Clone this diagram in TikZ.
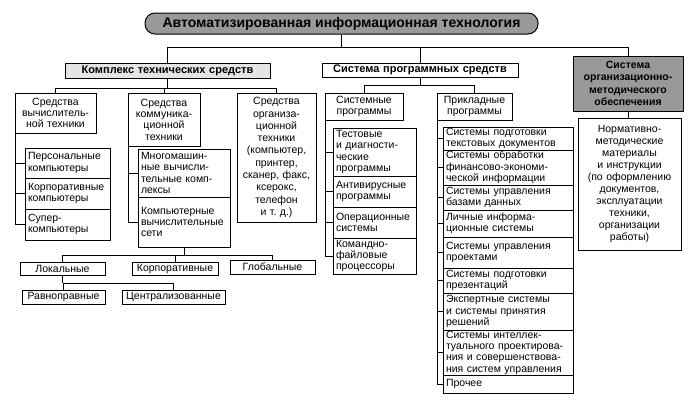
\documentclass[tikz,border=0pt]{standalone}
\usepackage{fontspec}
\setmainfont{Liberation Sans}
\begin{document}
\begin{tikzpicture}[x=1pt,y=-1pt,
  box/.style={draw,line width=1pt,inner xsep=3pt,inner ysep=0.5pt,outer sep=0pt,
    font=\fontsize{10.5}{11.3}\selectfont,align=left},
  cbox/.style={box,align=center},
  conn/.style={line width=1pt},
  grayfill/.style={fill=black!40},
  boldtxt/.style={font=\bfseries\fontsize{10.5}{12.3}\selectfont}]
\useasboundingbox (0,0) rectangle (695,402);
\newcommand\bx[7][]{%
  \pgfmathsetmacro\bw{#5-#3}%
  \pgfmathsetmacro\bh{#6-#4}%
  \pgfmathsetmacro\tw{#5-#3-6}%
  \node[box,#1,minimum width=\bw pt,minimum height=\bh pt,text width=\tw pt] (#2) at ({(#3+#5)/2},{(#4+#6)/2}) {#7};}
% title
\node[draw,line width=1pt,rounded corners=10pt,grayfill,minimum width=393pt,minimum height=21pt,
  font=\bfseries\fontsize{14}{15}\selectfont,inner sep=0pt] (title) at (341.5,23.5) {Автоматизированная информационная технология};
% level 2
\bx[align=center,fill=black!10,font=\bfseries\fontsize{11}{12}\selectfont]{kts}{65}{63}{270}{78}{Комплекс технических средств}
\bx[align=center,font=\bfseries\fontsize{11}{12}\selectfont]{sps}{322}{63}{518}{77}{Система программных средств}
\bx[boldtxt,align=center,grayfill]{som}{573}{56}{683}{111}{Система\\организационно-\\методического\\обеспечения}
\bx[align=center,font=\fontsize{10.5}{12}\selectfont]{norm}{578}{118}{681}{250}{Нормативно-\\методические\\материалы\\и инструкции\\(по оформлению\\документов,\\эксплуатации\\техники,\\организации\\работы)}
% technical means
\bx[align=center]{vt}{15}{93}{96}{133}{Средства\\вычислитель-\\ной техники}
\bx[align=center]{kt}{128}{93}{200}{146}{Средства\\коммуника-\\ционной\\техники}
\bx[align=center,font=\fontsize{10.5}{12.3}\selectfont]{ot}{237}{93}{316}{222}{Средства\\организа-\\ционной\\техники\\(компьютер,\\принтер,\\сканер, факс,\\ксерокс,\\телефон\\и т.~д.)}
\bx{pc}{25}{148}{110}{178}{Персональные\\компьютеры}
\bx{corp}{25}{178}{110}{209}{Корпоративные\\компьютеры}
\bx{sup}{25}{209}{110}{240}{Супер-\\компьютеры}
\bx{mm}{138}{149}{230}{197}{Многомашин-\\ные вычисли-\\тельные комп-\\лексы}
\bx{net}{138}{197}{230}{247}{Компьютерные\\вычислительные\\сети}
\bx[align=center]{loc}{20}{262}{105}{275}{Локальные}
\bx[align=center]{corpn}{132}{262}{218}{275}{Корпоративные}
\bx[align=center]{glob}{230}{260}{315}{274}{Глобальные}
\bx[align=center]{eq}{22}{290}{105}{304}{Равноправные}
\bx[align=center]{cent}{122}{290}{225}{304}{Централизованные}
% software
\bx[align=center]{sysp}{325}{93}{403}{120}{Системные\\программы}
\bx[align=center]{appp}{437}{93}{512}{120}{Прикладные\\программы}
\bx{test}{333}{128}{416}{176}{Тестовые\\и диагности-\\ческие\\программы}
\bx{av}{333}{176}{416}{207}{Антивирусные\\программы}
\bx{os}{333}{207}{416}{238}{Операционные\\системы}
\bx{cmd}{333}{238}{416}{274}{Командно-\\файловые\\процессоры}
\bx{a1}{443}{127}{573}{150}{Системы подготовки\\текстовых документов}
\bx{a2}{443}{150}{573}{185}{Системы обработки\\финансово-экономи-\\ческой информации}
\bx{a3}{443}{185}{573}{210}{Системы управления\\базами данных}
\bx{a4}{443}{210}{573}{237}{Личные информа-\\ционные системы}
\bx{a5}{443}{237}{573}{268}{Системы управления\\проектами}
\bx{a6}{443}{268}{573}{293}{Системы подготовки\\презентаций}
\bx{a7}{443}{293}{573}{330}{Экспертные системы\\и системы принятия\\решений}
\bx{a8}{443}{330}{573}{375}{Системы интеллек-\\туального проектирова-\\ния и совершенствова-\\ния систем управления}
\bx{a9}{443}{375}{573}{393}{Прочее}
% connectors
\coordinate (busA) at (0,47);
\coordinate (busB) at (0,88);
\coordinate (busC) at (0,255);
\coordinate (busD) at (0,283);
\coordinate (busE) at (0,85);
\draw[conn] (title.south) -- (title.south |- busA);
\draw[conn] (kts.north) |- (som.north |- busA) -- (som.north);
\draw[conn] (sps.north) -- (sps.north |- busA);
\draw[conn] (som.south) -- (som.south |- norm.north);
\draw[conn] (kts.south) -- (kts.south |- busB);
\draw[conn] (vt.north) |- (ot.north |- busB) -- (ot.north);
\draw[conn] (kt.north) -- (kt.north |- busB);
\draw[conn] (vt.south west) |- (sup.west);
\draw[conn] (pc.west -| vt.south west) -- (pc.west);
\draw[conn] (corp.west -| vt.south west) -- (corp.west);
\draw[conn] (kt.south west) |- (net.west);
\draw[conn] (mm.west -| kt.south west) -- (mm.west);
\draw[conn] (net.south) -- (net.south |- busC);
\draw[conn] (loc.north) |- (glob.north |- busC) -- (glob.north);
\draw[conn] (corpn.north) -- (corpn.north |- busC);
\draw[conn] (loc.south) -- (loc.south |- busD);
\draw[conn] (eq.north) |- (cent.north |- busD) -- (cent.north);
\draw[conn] (sps.south) -- (sps.south |- busE);
\draw[conn] (sysp.north) |- (appp.north |- busE) -- (appp.north);
\draw[conn] (sysp.south west) |- (cmd.west);
\foreach \n in {test,av,os} \draw[conn] (\n.west -| sysp.south west) -- (\n.west);
\draw[conn] (appp.south west) |- (a9.west);
\foreach \n in {a1,a2,a3,a4,a5,a6,a7,a8} \draw[conn] (\n.west -| appp.south west) -- (\n.west);
\end{tikzpicture}
\end{document}
